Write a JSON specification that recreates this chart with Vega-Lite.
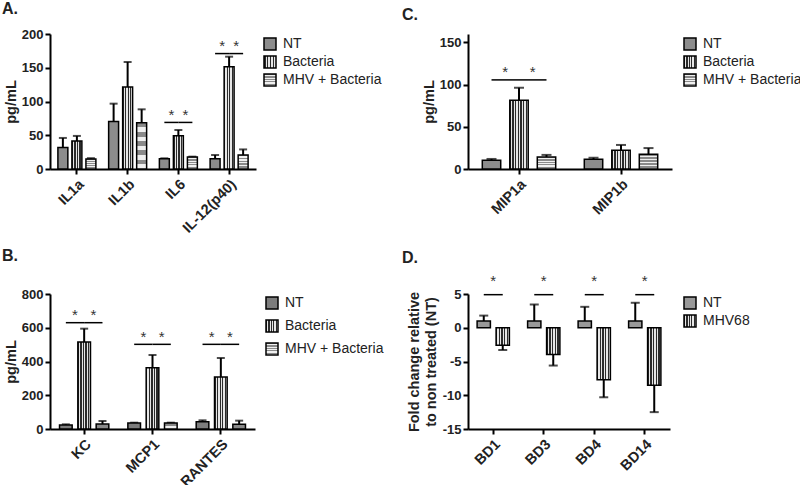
{
"$schema": "https://vega.github.io/schema/vega-lite/v6.json",
"background": "white",
"padding": {"left": 2, "top": 1, "right": 0, "bottom": 0},
"config": {
  "view": {"stroke": null},
  "font": "Liberation Sans",
  "axis": {"domainColor": "black", "domainWidth": 2, "tickColor": "black", "tickWidth": 2, "tickSize": 5, "labelFont": "Liberation Sans", "labelFontWeight": "bold", "labelFontSize": 13, "labelColor": "#222", "titleFont": "Liberation Sans", "titleFontWeight": "bold", "titleFontSize": 14.5, "titleColor": "#222", "grid": false, "labelPadding": 2, "labelOverlap": false},
  "axisX": {"labelAngle": -45, "labelFontSize": 14.5, "title": null, "labelPadding": 3},
  "legend": {"title": null, "orient": "none", "symbolType": "square", "symbolSize": 144, "symbolStrokeColor": "black", "symbolStrokeWidth": 1.5, "labelFontSize": 14, "labelFont": "Liberation Sans", "labelColor": "#222", "labelOffset": 6},
  "title": {"anchor": "start", "frame": "group", "fontSize": 16, "fontWeight": "bold", "font": "Liberation Sans", "color": "#222"}
},
"datasets": {
  "A": [
    {"cat": "IL1a", "grp": "NT", "v": 32, "e": 46},
    {"cat": "IL1a", "grp": "Bacteria", "v": 41.5, "e": 49},
    {"cat": "IL1a", "grp": "MHV + Bacteria", "v": 15, "e": 16},
    {"cat": "IL1b", "grp": "NT", "v": 70.5, "e": 96.8},
    {"cat": "IL1b", "grp": "Bacteria", "v": 121.5, "e": 158.5},
    {"cat": "IL1b", "grp": "MHV + Bacteria", "v": 68.6, "e": 88.4},
    {"cat": "IL6", "grp": "NT", "v": 15.3, "e": 15.8},
    {"cat": "IL6", "grp": "Bacteria", "v": 49.4, "e": 57.8},
    {"cat": "IL6", "grp": "MHV + Bacteria", "v": 17.8, "e": 18.3},
    {"cat": "IL-12(p40)", "grp": "NT", "v": 15.3, "e": 20.7},
    {"cat": "IL-12(p40)", "grp": "Bacteria", "v": 151.6, "e": 166.4},
    {"cat": "IL-12(p40)", "grp": "MHV + Bacteria", "v": 20.7, "e": 29}
  ],
  "Asig": [
    {"cat": "IL6", "grp": "NT", "y": 69, "seg": "a"},
    {"cat": "IL6", "grp": "Bacteria", "y": 69, "seg": "a"},
    {"cat": "IL6", "grp": "Bacteria", "y": 69, "seg": "b"},
    {"cat": "IL6", "grp": "MHV + Bacteria", "y": 69, "seg": "b"},
    {"cat": "IL-12(p40)", "grp": "NT", "y": 171, "seg": "c"},
    {"cat": "IL-12(p40)", "grp": "Bacteria", "y": 171, "seg": "c"},
    {"cat": "IL-12(p40)", "grp": "Bacteria", "y": 171, "seg": "d"},
    {"cat": "IL-12(p40)", "grp": "MHV + Bacteria", "y": 171, "seg": "d"}
  ],
  "Astar": [
    {"cat": "IL6", "grp": "NT", "y": 84},
    {"cat": "IL6", "grp": "Bacteria", "y": 84},
    {"cat": "IL-12(p40)", "grp": "NT", "y": 187},
    {"cat": "IL-12(p40)", "grp": "Bacteria", "y": 187}
  ],
  "C": [
    {"cat": "MIP1a", "grp": "NT", "v": 10.4, "e": 11.9},
    {"cat": "MIP1a", "grp": "Bacteria", "v": 81.5, "e": 96.3},
    {"cat": "MIP1a", "grp": "MHV + Bacteria", "v": 14.1, "e": 16.7},
    {"cat": "MIP1b", "grp": "NT", "v": 11.5, "e": 13.3},
    {"cat": "MIP1b", "grp": "Bacteria", "v": 22.2, "e": 28.5},
    {"cat": "MIP1b", "grp": "MHV + Bacteria", "v": 17.4, "e": 24.8}
  ],
  "Csig": [
    {"cat": "MIP1a", "grp": "NT", "y": 105.6, "seg": "a"},
    {"cat": "MIP1a", "grp": "Bacteria", "y": 105.6, "seg": "a"},
    {"cat": "MIP1a", "grp": "Bacteria", "y": 105.6, "seg": "b"},
    {"cat": "MIP1a", "grp": "MHV + Bacteria", "y": 105.6, "seg": "b"}
  ],
  "Cstar": [
    {"cat": "MIP1a", "grp": "NT", "y": 118},
    {"cat": "MIP1a", "grp": "Bacteria", "y": 118}
  ],
  "B": [
    {"cat": "KC", "grp": "NT", "v": 23.7, "e": 27.6},
    {"cat": "KC", "grp": "Bacteria", "v": 515.6, "e": 594.6},
    {"cat": "KC", "grp": "MHV + Bacteria", "v": 29.6, "e": 47.4},
    {"cat": "MCP1", "grp": "NT", "v": 35.6, "e": 37.5},
    {"cat": "MCP1", "grp": "Bacteria", "v": 363.5, "e": 438.5},
    {"cat": "MCP1", "grp": "MHV + Bacteria", "v": 35.6, "e": 37.5},
    {"cat": "RANTES", "grp": "NT", "v": 43.5, "e": 51.4},
    {"cat": "RANTES", "grp": "Bacteria", "v": 308, "e": 420.7},
    {"cat": "RANTES", "grp": "MHV + Bacteria", "v": 27.6, "e": 49.4}
  ],
  "Bsig": [
    {"cat": "KC", "grp": "NT", "y": 630, "seg": "a"},
    {"cat": "KC", "grp": "Bacteria", "y": 630, "seg": "a"},
    {"cat": "KC", "grp": "Bacteria", "y": 630, "seg": "b"},
    {"cat": "KC", "grp": "MHV + Bacteria", "y": 630, "seg": "b"},
    {"cat": "MCP1", "grp": "NT", "y": 501.7, "seg": "c"},
    {"cat": "MCP1", "grp": "Bacteria", "y": 501.7, "seg": "c"},
    {"cat": "MCP1", "grp": "Bacteria", "y": 501.7, "seg": "d"},
    {"cat": "MCP1", "grp": "MHV + Bacteria", "y": 501.7, "seg": "d"},
    {"cat": "RANTES", "grp": "NT", "y": 501.7, "seg": "e"},
    {"cat": "RANTES", "grp": "Bacteria", "y": 501.7, "seg": "e"},
    {"cat": "RANTES", "grp": "Bacteria", "y": 501.7, "seg": "f"},
    {"cat": "RANTES", "grp": "MHV + Bacteria", "y": 501.7, "seg": "f"}
  ],
  "Bstar": [
    {"cat": "KC", "grp": "NT", "y": 691},
    {"cat": "KC", "grp": "Bacteria", "y": 691},
    {"cat": "MCP1", "grp": "NT", "y": 563},
    {"cat": "MCP1", "grp": "Bacteria", "y": 563},
    {"cat": "RANTES", "grp": "NT", "y": 563},
    {"cat": "RANTES", "grp": "Bacteria", "y": 563}
  ],
  "D": [
    {"cat": "BD1", "grp": "NT", "v": 1, "e": 1.8},
    {"cat": "BD1", "grp": "MHV68", "v": -2.6, "e": -3.3},
    {"cat": "BD3", "grp": "NT", "v": 1, "e": 3.45},
    {"cat": "BD3", "grp": "MHV68", "v": -3.95, "e": -5.6},
    {"cat": "BD4", "grp": "NT", "v": 1, "e": 3.1},
    {"cat": "BD4", "grp": "MHV68", "v": -7.7, "e": -10.3},
    {"cat": "BD14", "grp": "NT", "v": 1, "e": 3.7},
    {"cat": "BD14", "grp": "MHV68", "v": -8.5, "e": -12.5}
  ],
  "Dsig": [
    {"cat": "BD1", "grp": "NT", "y": 4.9, "seg": "a"},
    {"cat": "BD1", "grp": "MHV68", "y": 4.9, "seg": "a"},
    {"cat": "BD3", "grp": "NT", "y": 4.9, "seg": "b"},
    {"cat": "BD3", "grp": "MHV68", "y": 4.9, "seg": "b"},
    {"cat": "BD4", "grp": "NT", "y": 4.9, "seg": "c"},
    {"cat": "BD4", "grp": "MHV68", "y": 4.9, "seg": "c"},
    {"cat": "BD14", "grp": "NT", "y": 4.9, "seg": "d"},
    {"cat": "BD14", "grp": "MHV68", "y": 4.9, "seg": "d"}
  ],
  "Dstar": [
    {"cat": "BD1", "grp": "NT", "y": 7.3},
    {"cat": "BD3", "grp": "NT", "y": 7.3},
    {"cat": "BD4", "grp": "NT", "y": 7.3},
    {"cat": "BD14", "grp": "NT", "y": 7.3}
  ]
},
"spacing": 260,
"bounds": "flush",
"resolve": {"scale": {"fill": "independent", "xOffset": "independent"}, "legend": {"fill": "independent"}},
"vconcat": [
 {"hconcat": [
  {
   "width": 206, "height": 135,
   "title": {"text": "A.", "dx": -48, "offset": 11},
   "layer": [
    {"data": {"name": "A"}, "mark": {"type": "rule", "strokeWidth": 2, "color": "black"},
     "encoding": {
      "x": {"field": "cat", "type": "nominal", "scale": {"domain": ["IL1a", "IL1b", "IL6", "IL-12(p40)"], "paddingInner": 0, "paddingOuter": 0.03}},
      "xOffset": {"field": "grp", "type": "nominal", "scale": {"domain": ["NT", "Bacteria", "MHV + Bacteria"], "paddingInner": 0.29, "paddingOuter": 0.455}},
      "y": {"field": "v", "type": "quantitative", "scale": {"domain": [0, 200]}, "axis": {"values": [0, 50, 100, 150, 200], "tickCount": 10, "labelOverlap": false, "title": "pg/mL", "titlePadding": 3}},
      "y2": {"field": "e"}}},
    {"data": {"name": "A"}, "mark": {"type": "tick", "thickness": 2, "size": 8, "color": "black"},
     "encoding": {"x": {"field": "cat", "type": "nominal"}, "xOffset": {"field": "grp", "type": "nominal"}, "y": {"field": "e", "type": "quantitative"}}},
    {"data": {"name": "A"}, "mark": {"type": "bar", "stroke": "black", "strokeWidth": 1.5},
     "encoding": {"x": {"field": "cat", "type": "nominal"}, "xOffset": {"field": "grp", "type": "nominal"}, "y": {"field": "v", "type": "quantitative"},
      "fill": {"field": "grp", "type": "nominal",
       "scale": {"domain": ["NT", "Bacteria", "MHV + Bacteria"], "range": ["#8c8c8c",
        {"expr": "{gradient:'linear',x1:0,y1:0,x2:1,y2:0,stops:[{offset:0,color:'#2b2b2b'},{offset:0.125,color:'#2b2b2b'},{offset:0.125,color:'#e6e6e6'},{offset:0.25,color:'#e6e6e6'},{offset:0.25,color:'#2b2b2b'},{offset:0.375,color:'#2b2b2b'},{offset:0.375,color:'#e6e6e6'},{offset:0.5,color:'#e6e6e6'},{offset:0.5,color:'#2b2b2b'},{offset:0.625,color:'#2b2b2b'},{offset:0.625,color:'#e6e6e6'},{offset:0.75,color:'#e6e6e6'},{offset:0.75,color:'#2b2b2b'},{offset:0.875,color:'#2b2b2b'},{offset:0.875,color:'#e6e6e6'},{offset:1,color:'#e6e6e6'}]}"},
        {"expr": "{gradient:'linear',x1:0,y1:0,x2:0,y2:1,stops:[{offset:0,color:'#8a8a8a'},{offset:0.1,color:'#8a8a8a'},{offset:0.1,color:'#f0f0f0'},{offset:0.2,color:'#f0f0f0'},{offset:0.2,color:'#8a8a8a'},{offset:0.3,color:'#8a8a8a'},{offset:0.3,color:'#f0f0f0'},{offset:0.4,color:'#f0f0f0'},{offset:0.4,color:'#8a8a8a'},{offset:0.5,color:'#8a8a8a'},{offset:0.5,color:'#f0f0f0'},{offset:0.6,color:'#f0f0f0'},{offset:0.6,color:'#8a8a8a'},{offset:0.7,color:'#8a8a8a'},{offset:0.7,color:'#f0f0f0'},{offset:0.8,color:'#f0f0f0'},{offset:0.8,color:'#8a8a8a'},{offset:0.9,color:'#8a8a8a'},{offset:0.9,color:'#f0f0f0'},{offset:1,color:'#f0f0f0'}]}"}]},
       "legend": {"legendX": 213, "legendY": 3, "rowPadding": 0}}}},
    {"data": {"name": "Asig"}, "mark": {"type": "line", "strokeWidth": 1.5, "color": "black"},
     "encoding": {"x": {"field": "cat", "type": "nominal"}, "xOffset": {"field": "grp", "type": "nominal"}, "y": {"field": "y", "type": "quantitative"}, "detail": {"field": "seg"}}},
    {"data": {"name": "Astar"}, "mark": {"type": "text", "text": "*", "dx": 7, "dy": 3, "fontSize": 15, "color": "#333", "baseline": "middle"},
     "encoding": {"x": {"field": "cat", "type": "nominal"}, "xOffset": {"field": "grp", "type": "nominal"}, "y": {"field": "y", "type": "quantitative"}}}
   ]
  },
  {
   "width": 204, "height": 135,
   "title": {"text": "C.", "dx": -66, "offset": 11},
   "layer": [
    {"data": {"name": "C"}, "mark": {"type": "rule", "strokeWidth": 2, "color": "black"},
     "encoding": {
      "x": {"field": "cat", "type": "nominal", "scale": {"domain": ["MIP1a", "MIP1b"], "paddingInner": 0, "paddingOuter": 0}},
      "xOffset": {"field": "grp", "type": "nominal", "scale": {"domain": ["NT", "Bacteria", "MHV + Bacteria"], "paddingInner": 0.33, "paddingOuter": 0.52}},
      "y": {"field": "v", "type": "quantitative", "scale": {"domain": [0, 150]}, "axis": {"values": [0, 50, 100, 150], "tickCount": 10, "labelOverlap": false, "title": "pg/mL", "titlePadding": 3}},
      "y2": {"field": "e"}}},
    {"data": {"name": "C"}, "mark": {"type": "tick", "thickness": 2, "size": 10, "color": "black"},
     "encoding": {"x": {"field": "cat", "type": "nominal"}, "xOffset": {"field": "grp", "type": "nominal"}, "y": {"field": "e", "type": "quantitative"}}},
    {"data": {"name": "C"}, "mark": {"type": "bar", "stroke": "black", "strokeWidth": 1.5},
     "encoding": {"x": {"field": "cat", "type": "nominal"}, "xOffset": {"field": "grp", "type": "nominal"}, "y": {"field": "v", "type": "quantitative"},
      "fill": {"field": "grp", "type": "nominal",
       "scale": {"domain": ["NT", "Bacteria", "MHV + Bacteria"], "range": ["#8c8c8c",
        {"expr": "{gradient:'linear',x1:0,y1:0,x2:1,y2:0,stops:[{offset:0,color:'#2b2b2b'},{offset:0.0714,color:'#2b2b2b'},{offset:0.0714,color:'#e6e6e6'},{offset:0.1429,color:'#e6e6e6'},{offset:0.1429,color:'#2b2b2b'},{offset:0.2143,color:'#2b2b2b'},{offset:0.2143,color:'#e6e6e6'},{offset:0.2857,color:'#e6e6e6'},{offset:0.2857,color:'#2b2b2b'},{offset:0.3571,color:'#2b2b2b'},{offset:0.3571,color:'#e6e6e6'},{offset:0.4286,color:'#e6e6e6'},{offset:0.4286,color:'#2b2b2b'},{offset:0.5,color:'#2b2b2b'},{offset:0.5,color:'#e6e6e6'},{offset:0.5714,color:'#e6e6e6'},{offset:0.5714,color:'#2b2b2b'},{offset:0.6429,color:'#2b2b2b'},{offset:0.6429,color:'#e6e6e6'},{offset:0.7143,color:'#e6e6e6'},{offset:0.7143,color:'#2b2b2b'},{offset:0.7857,color:'#2b2b2b'},{offset:0.7857,color:'#e6e6e6'},{offset:0.8571,color:'#e6e6e6'},{offset:0.8571,color:'#2b2b2b'},{offset:0.9286,color:'#2b2b2b'},{offset:0.9286,color:'#e6e6e6'},{offset:1,color:'#e6e6e6'}]}"},
        {"expr": "{gradient:'linear',x1:0,y1:0,x2:0,y2:1,stops:[{offset:0,color:'#8a8a8a'},{offset:0.1,color:'#8a8a8a'},{offset:0.1,color:'#f0f0f0'},{offset:0.2,color:'#f0f0f0'},{offset:0.2,color:'#8a8a8a'},{offset:0.3,color:'#8a8a8a'},{offset:0.3,color:'#f0f0f0'},{offset:0.4,color:'#f0f0f0'},{offset:0.4,color:'#8a8a8a'},{offset:0.5,color:'#8a8a8a'},{offset:0.5,color:'#f0f0f0'},{offset:0.6,color:'#f0f0f0'},{offset:0.6,color:'#8a8a8a'},{offset:0.7,color:'#8a8a8a'},{offset:0.7,color:'#f0f0f0'},{offset:0.8,color:'#f0f0f0'},{offset:0.8,color:'#8a8a8a'},{offset:0.9,color:'#8a8a8a'},{offset:0.9,color:'#f0f0f0'},{offset:1,color:'#f0f0f0'}]}"}]},
       "legend": {"legendX": 215, "legendY": 3, "rowPadding": 0}}}},
    {"data": {"name": "Csig"}, "mark": {"type": "line", "strokeWidth": 1.5, "color": "black"},
     "encoding": {"x": {"field": "cat", "type": "nominal"}, "xOffset": {"field": "grp", "type": "nominal"}, "y": {"field": "y", "type": "quantitative"}, "detail": {"field": "seg"}}},
    {"data": {"name": "Cstar"}, "mark": {"type": "text", "text": "*", "dx": 13.75, "dy": 3, "fontSize": 15, "color": "#333", "baseline": "middle"},
     "encoding": {"x": {"field": "cat", "type": "nominal"}, "xOffset": {"field": "grp", "type": "nominal"}, "y": {"field": "y", "type": "quantitative"}}}
   ]
  }
 ], "spacing": 212, "bounds": "flush",
 "resolve": {"scale": {"fill": "independent", "xOffset": "independent"}, "legend": {"fill": "independent"}}},
 {"hconcat": [
  {
   "width": 205, "height": 135,
   "title": {"text": "B.", "dx": -48, "offset": 24},
   "layer": [
    {"data": {"name": "B"}, "mark": {"type": "rule", "strokeWidth": 2, "color": "black"},
     "encoding": {
      "x": {"field": "cat", "type": "nominal", "scale": {"domain": ["KC", "MCP1", "RANTES"], "paddingInner": 0, "paddingOuter": 0}},
      "xOffset": {"field": "grp", "type": "nominal", "scale": {"domain": ["NT", "Bacteria", "MHV + Bacteria"], "paddingInner": 0.31, "paddingOuter": 0.52}},
      "y": {"field": "v", "type": "quantitative", "scale": {"domain": [0, 800]}, "axis": {"values": [0, 200, 400, 600, 800], "tickCount": 10, "labelOverlap": false, "title": "pg/mL", "titlePadding": 3}},
      "y2": {"field": "e"}}},
    {"data": {"name": "B"}, "mark": {"type": "tick", "thickness": 2, "size": 8, "color": "black"},
     "encoding": {"x": {"field": "cat", "type": "nominal"}, "xOffset": {"field": "grp", "type": "nominal"}, "y": {"field": "e", "type": "quantitative"}}},
    {"data": {"name": "B"}, "mark": {"type": "bar", "stroke": "black", "strokeWidth": 1.5},
     "encoding": {"x": {"field": "cat", "type": "nominal"}, "xOffset": {"field": "grp", "type": "nominal"}, "y": {"field": "v", "type": "quantitative"},
      "fill": {"field": "grp", "type": "nominal",
       "scale": {"domain": ["NT", "Bacteria", "MHV + Bacteria"], "range": ["#7d7d7d",
        {"expr": "{gradient:'linear',x1:0,y1:0,x2:1,y2:0,stops:[{offset:0,color:'#2b2b2b'},{offset:0.1,color:'#2b2b2b'},{offset:0.1,color:'#e6e6e6'},{offset:0.2,color:'#e6e6e6'},{offset:0.2,color:'#2b2b2b'},{offset:0.3,color:'#2b2b2b'},{offset:0.3,color:'#e6e6e6'},{offset:0.4,color:'#e6e6e6'},{offset:0.4,color:'#2b2b2b'},{offset:0.5,color:'#2b2b2b'},{offset:0.5,color:'#e6e6e6'},{offset:0.6,color:'#e6e6e6'},{offset:0.6,color:'#2b2b2b'},{offset:0.7,color:'#2b2b2b'},{offset:0.7,color:'#e6e6e6'},{offset:0.8,color:'#e6e6e6'},{offset:0.8,color:'#2b2b2b'},{offset:0.9,color:'#2b2b2b'},{offset:0.9,color:'#e6e6e6'},{offset:1,color:'#e6e6e6'}]}"},
        {"expr": "{gradient:'linear',x1:0,y1:0,x2:0,y2:1,stops:[{offset:0,color:'#8a8a8a'},{offset:0.1,color:'#8a8a8a'},{offset:0.1,color:'#f0f0f0'},{offset:0.2,color:'#f0f0f0'},{offset:0.2,color:'#8a8a8a'},{offset:0.3,color:'#8a8a8a'},{offset:0.3,color:'#f0f0f0'},{offset:0.4,color:'#f0f0f0'},{offset:0.4,color:'#8a8a8a'},{offset:0.5,color:'#8a8a8a'},{offset:0.5,color:'#f0f0f0'},{offset:0.6,color:'#f0f0f0'},{offset:0.6,color:'#8a8a8a'},{offset:0.7,color:'#8a8a8a'},{offset:0.7,color:'#f0f0f0'},{offset:0.8,color:'#f0f0f0'},{offset:0.8,color:'#8a8a8a'},{offset:0.9,color:'#8a8a8a'},{offset:0.9,color:'#f0f0f0'},{offset:1,color:'#f0f0f0'}]}"}]},
       "legend": {"legendX": 215, "legendY": 2, "rowPadding": 5}}}},
    {"data": {"name": "Bsig"}, "mark": {"type": "line", "strokeWidth": 1.5, "color": "black"},
     "encoding": {"x": {"field": "cat", "type": "nominal"}, "xOffset": {"field": "grp", "type": "nominal"}, "y": {"field": "y", "type": "quantitative"}, "detail": {"field": "seg"}}},
    {"data": {"name": "Bstar"}, "mark": {"type": "text", "text": "*", "dx": 9.15, "dy": 3, "fontSize": 15, "color": "#333", "baseline": "middle"},
     "encoding": {"x": {"field": "cat", "type": "nominal"}, "xOffset": {"field": "grp", "type": "nominal"}, "y": {"field": "y", "type": "quantitative"}}}
   ]
  },
  {
   "width": 202, "height": 135,
   "title": {"text": "D.", "dx": -66, "offset": 8},
   "layer": [
    {"data": {"name": "D"}, "mark": {"type": "rule", "strokeWidth": 2, "color": "black"},
     "encoding": {
      "x": {"field": "cat", "type": "nominal", "scale": {"domain": ["BD1", "BD3", "BD4", "BD14"], "paddingInner": 0, "paddingOuter": 0}},
      "xOffset": {"field": "grp", "type": "nominal", "scale": {"domain": ["NT", "MHV68"], "paddingInner": 0.3, "paddingOuter": 0.48}},
      "y": {"field": "v", "type": "quantitative", "scale": {"domain": [-15, 5], "nice": false, "zero": false}, "axis": {"values": [5, 0, -5, -10, -15], "tickCount": 10, "labelOverlap": false, "labelExpr": "toString(datum.value)", "title": ["Fold change relative", "to non treated (NT)"], "titleLineHeight": 17, "titlePadding": 4}},
      "y2": {"field": "e"}}},
    {"data": {"name": "D"}, "mark": {"type": "tick", "thickness": 2, "size": 9, "color": "black"},
     "encoding": {"x": {"field": "cat", "type": "nominal"}, "xOffset": {"field": "grp", "type": "nominal"}, "y": {"field": "e", "type": "quantitative", "scale": {"domain": [-15, 5]}}}},
    {"data": {"name": "D"}, "mark": {"type": "bar", "stroke": "black", "strokeWidth": 1.5},
     "encoding": {"x": {"field": "cat", "type": "nominal"}, "xOffset": {"field": "grp", "type": "nominal"}, "y": {"field": "v", "type": "quantitative", "scale": {"domain": [-15, 5]}},
      "fill": {"field": "grp", "type": "nominal",
       "scale": {"domain": ["NT", "MHV68"], "range": ["#999999",
        {"expr": "{gradient:'linear',x1:0,y1:0,x2:1,y2:0,stops:[{offset:0,color:'#2b2b2b'},{offset:0.1,color:'#2b2b2b'},{offset:0.1,color:'#e6e6e6'},{offset:0.2,color:'#e6e6e6'},{offset:0.2,color:'#2b2b2b'},{offset:0.3,color:'#2b2b2b'},{offset:0.3,color:'#e6e6e6'},{offset:0.4,color:'#e6e6e6'},{offset:0.4,color:'#2b2b2b'},{offset:0.5,color:'#2b2b2b'},{offset:0.5,color:'#e6e6e6'},{offset:0.6,color:'#e6e6e6'},{offset:0.6,color:'#2b2b2b'},{offset:0.7,color:'#2b2b2b'},{offset:0.7,color:'#e6e6e6'},{offset:0.8,color:'#e6e6e6'},{offset:0.8,color:'#2b2b2b'},{offset:0.9,color:'#2b2b2b'},{offset:0.9,color:'#e6e6e6'},{offset:1,color:'#e6e6e6'}]}"}]},
       "legend": {"legendX": 215, "legendY": 2, "rowPadding": 0}}}},
    {"mark": {"type": "rule", "strokeWidth": 2, "color": "black"}, "encoding": {"y": {"datum": 0, "scale": {"domain": [-15, 5]}}}},
    {"data": {"name": "Dsig"}, "mark": {"type": "line", "strokeWidth": 1.5, "color": "black"},
     "encoding": {"x": {"field": "cat", "type": "nominal"}, "xOffset": {"field": "grp", "type": "nominal"}, "y": {"field": "y", "type": "quantitative", "scale": {"domain": [-15, 5]}}, "detail": {"field": "seg"}}},
    {"data": {"name": "Dstar"}, "mark": {"type": "text", "text": "*", "dx": 9.5, "dy": 3, "fontSize": 15, "color": "#333", "baseline": "middle"},
     "encoding": {"x": {"field": "cat", "type": "nominal"}, "xOffset": {"field": "grp", "type": "nominal"}, "y": {"field": "y", "type": "quantitative", "scale": {"domain": [-15, 5]}}}}
   ]
  }
 ], "spacing": 213, "bounds": "flush",
 "resolve": {"scale": {"fill": "independent", "xOffset": "independent"}, "legend": {"fill": "independent"}}}
]
}
